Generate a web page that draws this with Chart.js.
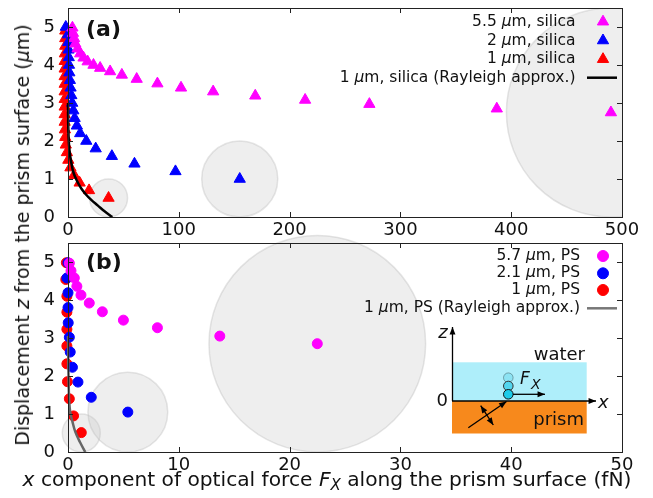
<!DOCTYPE html>
<html>
<head>
<meta charset="utf-8">
<script src="https://cdn.jsdelivr.net/npm/chart.js@4.4.0/dist/chart.umd.min.js"></script>
<style>
  html, body { margin: 0; padding: 0; background: #fff; }
  #wrap { position: relative; width: 653px; height: 498px; overflow: hidden; font-family: "DejaVu Sans", sans-serif; color: #111; }
  canvas { position: absolute; left: 0; }
  #chartA { top: 0; }
  #chartB { top: 225px; }
  .ytitle { position: absolute; left: 22px; top: 235px; transform: translate(-50%, -50%) rotate(-90deg); white-space: nowrap; font-size: 19px; }
  .xtitle { position: absolute; left: 327px; top: 480px; transform: translate(-50%, -50%); white-space: nowrap; font-size: 20.2px; }
  .xtitle sub { font-size: 15px; vertical-align: -4px; }
</style>
</head>
<body>
<div id="wrap">
  <canvas id="chartA" width="653" height="240"></canvas>
  <canvas id="chartB" width="653" height="273"></canvas>
  <div class="ytitle">Displacement <i>z</i> from the prism surface (<i>μ</i>m)</div>
  <div class="xtitle"><i>x</i> component of optical force <i>F<sub>X</sub></i> along the prism surface (fN)</div>
</div>
<script>
const FONT = '"DejaVu Sans", sans-serif';

// (a) silica spheres: x = Fx (fN), z = displacement (um)
const silica55X = [4, 4.5, 5.5, 6.6, 8.7, 11, 14, 17.7, 23, 29, 38, 48.6, 62, 80.7, 102, 131, 169, 214, 272, 387, 490];
const silica55Z = [4.98, 4.84, 4.70, 4.56, 4.43, 4.30, 4.19, 4.09, 4.00, 3.92, 3.83, 3.74, 3.63, 3.51, 3.40, 3.30, 3.19, 3.08, 2.97, 2.85, 2.75];
const silica2X = [-2, 0, 0.3, 0.5, 0.7, 0.9, 1.2, 1.7, 2.3, 3.0, 3.8, 4.8, 6, 8, 11, 16.5, 25, 39.6, 60, 97, 155];
const silica2Z = [5.0, 4.8, 4.6, 4.4, 4.2, 4.0, 3.8, 3.6, 3.4, 3.2, 3.0, 2.8, 2.6, 2.4, 2.2, 2.0, 1.8, 1.6, 1.4, 1.2, 1.0];
const silica1X = [-2.5, -2.5, -2.5, -2.8, -3, -3, -3, -3, -3, -3, -3, -3, -3, -2.8, -2.5, -2, -1, 0.3, 2.2, 5.5, 10.5, 19, 36.6];
const silica1Z = [4.9, 4.7, 4.5, 4.3, 4.1, 3.9, 3.7, 3.5, 3.3, 3.1, 2.9, 2.7, 2.5, 2.3, 2.1, 1.9, 1.7, 1.5, 1.3, 1.1, 0.9, 0.7, 0.5];
const rayleighSilicaX = [40, 33, 27, 21, 16, 12, 9, 6.5, 4.6, 3.2, 2, 1.2, 0.7, 0.3, 0.1, 0];
const rayleighSilicaZ = [0, 0.15, 0.3, 0.45, 0.6, 0.75, 0.9, 1.05, 1.2, 1.4, 1.6, 1.8, 2.0, 2.3, 2.6, 3.0];
const particleAX = [36.6, 155, 490];
const particleAZ = [0.5, 1.0, 2.75];
const particleAR = [0.5, 1.0, 2.75];

// (b) polystyrene spheres
const ps57X = [0.12, 0.27, 0.57, 0.8, 1.17, 1.92, 3.1, 5.0, 8.07, 13.7, 22.5];
const ps57Z = [4.97, 4.77, 4.58, 4.36, 4.13, 3.92, 3.69, 3.47, 3.27, 3.05, 2.85];
const ps21X = [0, -0.1, 0, 0, 0.02, 0.12, 0.2, 0.4, 0.9, 2.1, 5.4];
const ps21Z = [4.98, 4.58, 4.19, 3.8, 3.4, 3.02, 2.63, 2.23, 1.84, 1.44, 1.05];
const ps1X = [-0.15, -0.2, -0.1, -0.1, -0.1, -0.1, -0.1, -0.05, 0.12, 0.5, 1.2];
const ps1Z = [4.98, 4.54, 4.1, 3.68, 3.23, 2.79, 2.32, 1.85, 1.4, 0.95, 0.51];
const rayleighPsX = [1.56, 1.1, 0.66, 0.4, 0.2, 0.1, 0.05, 0.02, 0];
const rayleighPsZ = [0, 0.25, 0.53, 0.8, 1.05, 1.4, 1.93, 2.5, 3.05];
const particleBX = [1.2, 5.4, 22.5];
const particleBZ = [0.5, 1.05, 2.85];
const particleBR = [0.5, 1.05, 2.85];

const zTicks = [0, 1, 2, 3, 4, 5];
const legendA = ['5.5 μm, silica', '2 μm, silica', '1 μm, silica', '1 μm, silica (Rayleigh approx.)'];
const legendB = ['5.7 μm, PS', '2.1 μm, PS', '1 μm, PS', '1 μm, PS (Rayleigh approx.)'];

const MAGENTA = '#ff00ff', BLUE = '#0000ff', RED = '#ff0000';

function pts(xs, zs) {
  return xs.map((x, i) => ({ x: x, y: zs[i] }));
}

// particle drawn to scale: radius in um converted through the y scale
function particleRadius(radii) {
  return function(ctx) {
    const s = ctx.chart.scales.y;
    return s.getPixelForValue(0) - s.getPixelForValue(radii[ctx.dataIndex]);
  };
}

function drawRich(ctx, text, rightX, y, size) {
  const parts = text.split('μ');
  const runs = [];
  parts.forEach((p, i) => {
    if (i > 0) runs.push({ t: 'μ', f: 'italic ' + size + 'px ' + FONT });
    runs.push({ t: p, f: size + 'px ' + FONT });
  });
  let total = 0;
  runs.forEach(r => { ctx.font = r.f; r.w = ctx.measureText(r.t).width; total += r.w; });
  let x = rightX - total;
  ctx.textBaseline = 'middle';
  ctx.textAlign = 'left';
  runs.forEach(r => { ctx.font = r.f; ctx.fillText(r.t, x, y); x += r.w; });
}

function arrowHead(ctx, x1, y1, x2, y2, size) {
  const a = Math.atan2(y2 - y1, x2 - x1);
  ctx.beginPath();
  ctx.moveTo(x2, y2);
  ctx.lineTo(x2 - size * Math.cos(a - 0.38), y2 - size * Math.sin(a - 0.38));
  ctx.lineTo(x2 - size * Math.cos(a + 0.38), y2 - size * Math.sin(a + 0.38));
  ctx.closePath();
  ctx.fill();
}

function arrow(ctx, x1, y1, x2, y2, both) {
  ctx.beginPath();
  ctx.moveTo(x1, y1);
  ctx.lineTo(x2, y2);
  ctx.stroke();
  arrowHead(ctx, x1, y1, x2, y2, 8);
  if (both) arrowHead(ctx, x2, y2, x1, y1, 8);
}

// box frame with inward ticks, drawn over the markers
const framePlugin = {
  id: 'frame',
  afterDatasetsDraw(chart) {
    const { ctx, chartArea: a, scales } = chart;
    ctx.save();
    ctx.strokeStyle = '#222';
    ctx.lineWidth = 1;
    ctx.strokeRect(Math.round(a.left) + 0.5, Math.round(a.top) + 0.5, Math.round(a.width), Math.round(a.height));
    ctx.beginPath();
    scales.x.ticks.forEach(t => {
      const px = Math.round(scales.x.getPixelForValue(t.value)) + 0.5;
      if (px <= a.left + 2 || px >= a.right - 2) return;
      ctx.moveTo(px, a.bottom); ctx.lineTo(px, a.bottom - 5);
      ctx.moveTo(px, a.top); ctx.lineTo(px, a.top + 5);
    });
    scales.y.ticks.forEach(t => {
      const py = Math.round(scales.y.getPixelForValue(t.value)) + 0.5;
      if (py <= a.top + 2 || py >= a.bottom - 2) return;
      ctx.moveTo(a.left, py); ctx.lineTo(a.left + 5, py);
      ctx.moveTo(a.right, py); ctx.lineTo(a.right - 5, py);
    });
    ctx.stroke();
    ctx.restore();
  }
};

function legendPlugin(labels, colors, style, lineColor, rows, textRight) {
  return {
    id: 'sideLegend',
    afterDraw(chart) {
      const ctx = chart.ctx;
      ctx.save();
      labels.forEach((lab, i) => {
        ctx.fillStyle = '#111';
        drawRich(ctx, lab, textRight, rows[i], 15.5);
        if (i < 3) {
          ctx.fillStyle = colors[i];
          ctx.strokeStyle = colors[i];
          ctx.lineWidth = 1;
          Chart.helpers.drawPoint(ctx, { pointStyle: style, radius: style === 'triangle' ? 6.5 : 5.5, rotation: 0, borderWidth: 1 }, 603, rows[i]);
        } else {
          ctx.strokeStyle = lineColor;
          ctx.lineWidth = 2.5;
          ctx.beginPath();
          ctx.moveTo(587, rows[i]);
          ctx.lineTo(617, rows[i]);
          ctx.stroke();
        }
      });
      ctx.restore();
    }
  };
}

function panelLabel(text, y) {
  return {
    id: 'panelLabel',
    afterDraw(chart) {
      const ctx = chart.ctx;
      ctx.save();
      ctx.font = 'bold 22px ' + FONT;
      ctx.fillStyle = '#111';
      ctx.textAlign = 'left';
      ctx.textBaseline = 'middle';
      ctx.fillText(text, 86, y);
      ctx.restore();
    }
  };
}

// schematic of the prism / water interface in panel (b)
const insetPlugin = {
  id: 'inset',
  afterDraw(chart) {
    const ctx = chart.ctx;
    const oy = 225;
    ctx.save();
    ctx.fillStyle = '#aeeefa';
    ctx.fillRect(452, 362.3 - oy, 134.7, 38.7);
    ctx.fillStyle = '#f7891c';
    ctx.fillRect(452, 401 - oy, 134.7, 32.5);

    ctx.strokeStyle = '#000';
    ctx.fillStyle = '#000';
    ctx.lineWidth = 1.3;
    arrow(ctx, 452.5, 401 - oy, 452.5, 327 - oy);
    arrow(ctx, 452, 401 - oy, 596, 401 - oy);

    // beam and polarisation
    arrow(ctx, 468.3, 427.7 - oy, 506.5, 401.5 - oy);
    arrow(ctx, 480.7, 405.7 - oy, 493.3, 425 - oy, true);

    // sphere positions
    const cy = [377.7, 386, 394.3];
    const fills = ['rgba(80,205,230,0.35)', '#52d5ee', '#1ccbe9'];
    const strokes = ['rgba(0,0,0,0.3)', '#333', '#111'];
    cy.forEach((y, i) => {
      ctx.beginPath();
      ctx.arc(508.3, y - oy, 4.8, 0, Math.PI * 2);
      ctx.fillStyle = fills[i];
      ctx.fill();
      ctx.strokeStyle = strokes[i];
      ctx.lineWidth = 1;
      ctx.stroke();
    });
    ctx.strokeStyle = '#000';
    ctx.fillStyle = '#000';
    ctx.lineWidth = 1.3;
    arrow(ctx, 513, 394.3 - oy, 545, 394.3 - oy);

    ctx.fillStyle = '#111';
    ctx.textBaseline = 'alphabetic';
    ctx.font = '18px ' + FONT;
    ctx.textAlign = 'right';
    ctx.fillText('water', 585, 360 - oy);
    ctx.fillText('prism', 584, 425 - oy);
    ctx.textBaseline = 'middle';
    ctx.fillText('0', 448, 401 - oy);
    ctx.font = 'italic 18px ' + FONT;
    ctx.textAlign = 'center';
    ctx.fillText('z', 443, 333 - oy);
    ctx.textAlign = 'left';
    ctx.fillText('x', 598, 403 - oy);
    ctx.textBaseline = 'alphabetic';
    ctx.font = 'italic 17px ' + FONT;
    ctx.fillText('F', 520, 384 - oy);
    ctx.font = 'italic 14px ' + FONT;
    ctx.fillText('X', 531, 389 - oy);
    ctx.restore();
  }
};

function noPad(s) {
  s.paddingTop = 0; s.paddingBottom = 0; s.paddingLeft = 0; s.paddingRight = 0;
}

function scalesFor(xMax, xStep, xHeight) {
  return {
    x: {
      type: 'linear', min: 0, max: xMax,
      ticks: { stepSize: xStep, font: { family: FONT, size: 18 }, color: '#111', padding: 3, maxRotation: 0, autoSkip: false },
      grid: { display: false, drawTicks: false },
      border: { display: false },
      afterFit: s => { s.height = xHeight; noPad(s); }
    },
    y: {
      type: 'linear', min: 0, max: 5.5,
      ticks: { font: { family: FONT, size: 18 }, color: '#111', padding: 13, autoSkip: false },
      grid: { display: false, drawTicks: false },
      border: { display: false },
      afterBuildTicks: s => { s.ticks = zTicks.map(v => ({ value: v })); },
      afterFit: s => { s.width = 68; noPad(s); }
    }
  };
}

const common = {
  responsive: false,
  animation: false,
  devicePixelRatio: 1,
  events: [],
  plugins: { legend: { display: false }, tooltip: { enabled: false } }
};

new Chart(document.getElementById('chartA'), {
  type: 'scatter',
  data: {
    datasets: [
      { type: 'line', data: pts(rayleighSilicaX, rayleighSilicaZ), borderColor: '#000', borderWidth: 2.5, pointRadius: 0, tension: 0.4, fill: false, order: 0, clip: false },
      { data: pts(silica55X, silica55Z), pointStyle: 'triangle', pointRadius: 6.5, backgroundColor: MAGENTA, borderColor: MAGENTA, borderWidth: 1, order: 1, clip: false },
      { data: pts(silica2X, silica2Z), pointStyle: 'triangle', pointRadius: 6.5, backgroundColor: BLUE, borderColor: BLUE, borderWidth: 1, order: 2, clip: false },
      { data: pts(silica1X, silica1Z), pointStyle: 'triangle', pointRadius: 6.5, backgroundColor: RED, borderColor: RED, borderWidth: 1, order: 3, clip: false },
      { data: pts(particleAX, particleAZ), pointRadius: particleRadius(particleAR), backgroundColor: 'rgba(200,200,200,0.3)', borderColor: 'rgba(180,180,180,0.35)', borderWidth: 1.5, order: 4, clip: 0 }
    ]
  },
  options: Object.assign({}, common, {
    layout: { padding: { left: 0, right: 31, top: 8, bottom: 0 } },
    scales: scalesFor(500, 100, 23)
  }),
  plugins: [framePlugin, legendPlugin(legendA, [MAGENTA, BLUE, RED], 'triangle', '#000', [21.7, 40.5, 59.2, 77.7], 575.5), panelLabel('(a)', 30)]
});

new Chart(document.getElementById('chartB'), {
  type: 'scatter',
  data: {
    datasets: [
      { type: 'line', data: pts(rayleighPsX, rayleighPsZ), borderColor: '#666', borderWidth: 2.5, pointRadius: 0, tension: 0.4, fill: false, order: 0, clip: false },
      { data: pts(ps57X, ps57Z), pointRadius: 5, backgroundColor: MAGENTA, borderColor: MAGENTA, borderWidth: 1, order: 1, clip: false },
      { data: pts(ps21X, ps21Z), pointRadius: 5, backgroundColor: BLUE, borderColor: BLUE, borderWidth: 1, order: 2, clip: false },
      { data: pts(ps1X, ps1Z), pointRadius: 5, backgroundColor: RED, borderColor: RED, borderWidth: 1, order: 3, clip: false },
      { data: pts(particleBX, particleBZ), pointRadius: particleRadius(particleBR), backgroundColor: 'rgba(200,200,200,0.3)', borderColor: 'rgba(180,180,180,0.35)', borderWidth: 1.5, order: 4, clip: false }
    ]
  },
  options: Object.assign({}, common, {
    layout: { padding: { left: 0, right: 31, top: 18, bottom: 0 } },
    scales: scalesFor(50, 10, 46)
  }),
  plugins: [framePlugin, insetPlugin, legendPlugin(legendB, [MAGENTA, BLUE, RED], 'circle', '#777', [31, 48.3, 65, 83.3], 580), panelLabel('(b)', 38)]
});
</script>
</body>
</html>
